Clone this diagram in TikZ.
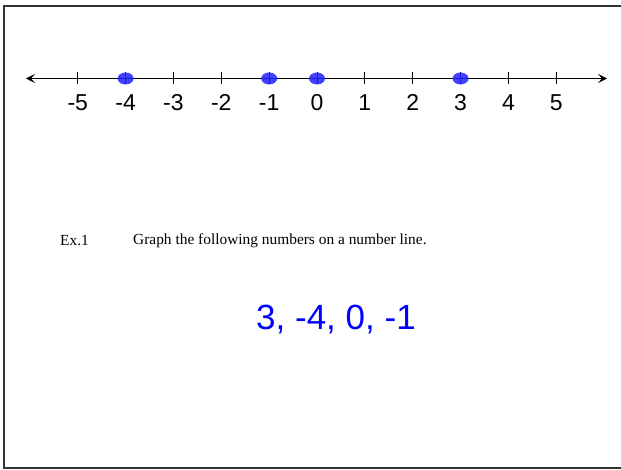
\documentclass[tikz,border=0pt]{standalone}
\usepackage{fontspec}
\setmainfont{Liberation Serif}
\newfontfamily\arialfont{Liberation Sans}
\usepackage{tikz}
\usetikzlibrary{positioning, arrows.meta, shapes.geometric}
\definecolor{penblue}{HTML}{2020FF}
\definecolor{textblue}{HTML}{0000FF}

\begin{document}
\begin{tikzpicture}[x=1pt, y=-1pt,
    ticklbl/.style={font=\arialfont\fontsize{23}{23}\selectfont, inner sep=0pt},
    penmark/.style={ellipse, fill=penblue, fill opacity=0.85, minimum width=16pt,
                    minimum height=12pt, inner sep=0pt}]
  \useasboundingbox (0,0) rectangle (621,470);
  \draw[line width=2pt, black!80] (621,6) -- (4,6) -- (4,468) -- (621,468);

  % number line
  \coordinate (lineL) at (26,78.5);
  \coordinate (lineR) at (607,78.5);
  \draw[line width=1.6pt, {Stealth[length=9pt, width=9pt, inset=4pt]}-{Stealth[length=9pt, width=9pt, inset=4pt]}]
    (lineL) -- (lineR);
  \foreach \n in {-5,...,5} {
    \coordinate (tick\n) at ({317+47.85*\n},78.5);
    \draw[line width=0.9pt] ([yshift=-6pt]tick\n) -- ([yshift=6pt]tick\n);
    \node[ticklbl] (num\n) at ({317+47.85*\n},102.5) {\n};
  }
  \foreach \n in {-4,-1,0,3}
    \node[penmark] (mark\n) at (tick\n) {};

  % example text
  \node[anchor=west, inner sep=0pt, font=\fontsize{15.4}{15.4}\selectfont] (exnum) at (60,241) {Ex.1};
  \node[anchor=west, inner sep=0pt, font=\fontsize{15.4}{15.4}\selectfont] (extext) at (133,241)
    {Graph the following numbers on a number line.};
  \node[text=textblue, font=\arialfont\fontsize{35}{35}\selectfont, inner sep=0pt] (values) at (336,320)
    {3, -4, 0, -1};
\end{tikzpicture}
\end{document}
